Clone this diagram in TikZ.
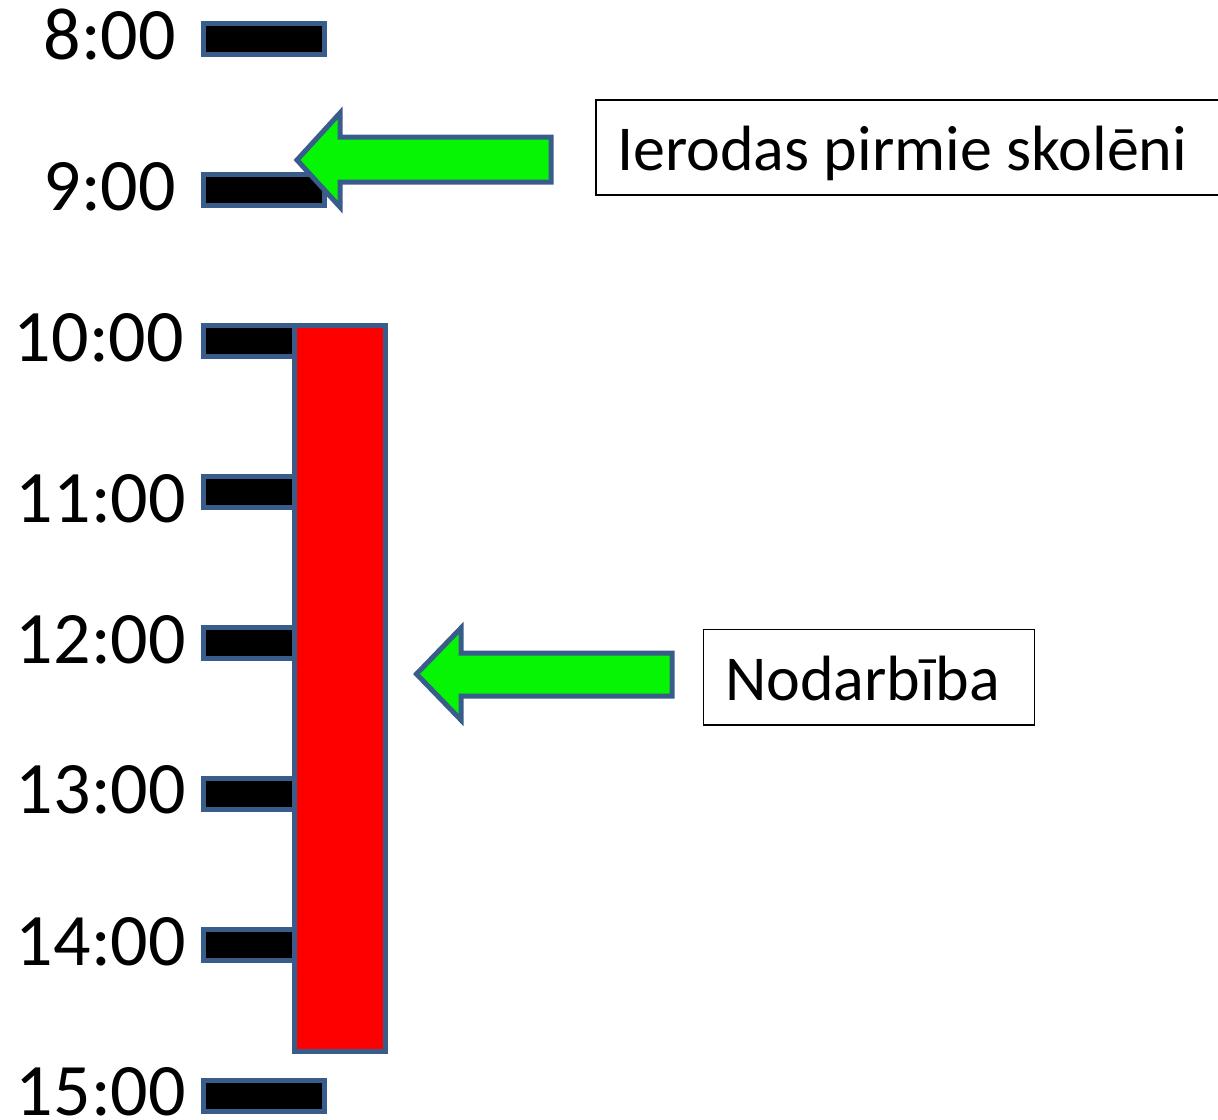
\documentclass[tikz,border=0pt]{standalone}
\usepackage{fontspec}
\setmainfont{Carlito}
\definecolor{edgeblue}{RGB}{56,93,138}
\definecolor{arrowgreen}{RGB}{5,245,5}
\begin{document}
\begin{tikzpicture}[x=1pt,y=-1pt,
  bar/.style={rectangle,draw=edgeblue,fill=black,line width=5pt,minimum width=121pt,minimum height=31pt,inner sep=0pt,outer sep=0pt},
  redbar/.style={rectangle,draw=edgeblue,fill=red,line width=5pt,inner sep=0pt,outer sep=0pt},
  timelbl/.style={anchor=base east,inner sep=0pt,font=\fontsize{74}{80}\selectfont},
  tbox/.style={rectangle,draw=black,line width=1.5pt,inner sep=0pt,outer sep=0pt,anchor=north west},
  boxtext/.style={anchor=base west,inner sep=0pt,font=\fontsize{64}{70}\selectfont},
  bigarrow/.style={draw=edgeblue,fill=arrowgreen,line width=5pt,line join=miter}
]
\useasboundingbox (0,0) rectangle (1218,1119);
% tick bars
\node[bar] (b8)  at (264,39)   {};
\node[bar] (b9)  at (264,190)  {};
\node[bar] (b10) at (264,341)  {};
\node[bar] (b11) at (264,492)  {};
\node[bar] (b12) at (264,643)  {};
\node[bar] (b13) at (264,794)  {};
\node[bar] (b14) at (264,945)  {};
\node[bar] (b15) at (264,1096) {};
% time labels
\node[timelbl] (l8)  at (176,59)   {8:00};
\node[timelbl] (l9)  at (176,210)  {9:00};
\node[timelbl] (l10) at (184,361)  {10:00};
\node[timelbl] (l11) at (186,522)  {11:00};
\node[timelbl] (l12) at (186,663)  {12:00};
\node[timelbl] (l13) at (186,813)  {13:00};
\node[timelbl] (l14) at (186,965)  {14:00};
\node[timelbl] (l15) at (186,1115) {15:00};
% activity bar
\node[redbar,minimum width=91pt,minimum height=726pt,anchor=north west] (act) at (294.5,325.5) {};
% text boxes
\node[tbox,minimum width=629pt,minimum height=95pt] (box1) at (596,100) {};
\node[boxtext] (t1) at (617,170) {Ierodas pirmie skolēni};
\node[tbox,minimum width=331pt,minimum height=95.5pt] (box2) at (703.5,629.5) {};
\node[boxtext] (t2) at (725,700) {Nodarbība};
% arrows
\draw[bigarrow] (297,160) -- (340,113) -- (340,137) -- (551,137) -- (551,182) -- (340,182) -- (340,207) -- cycle;
\draw[bigarrow] (416.5,674) -- (461,628) -- (461,653) -- (672,653) -- (672,696) -- (461,696) -- (461,720) -- cycle;
\end{tikzpicture}
\end{document}
